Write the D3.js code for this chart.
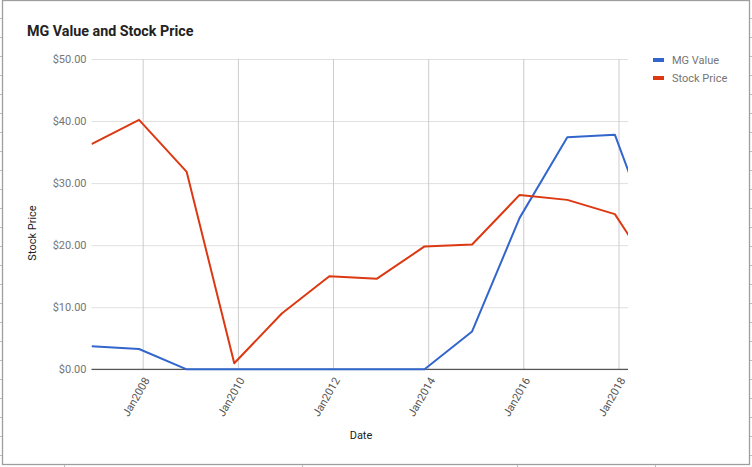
<!DOCTYPE html>
<html>
<head>
<meta charset="utf-8">
<script src="https://cdn.jsdelivr.net/npm/d3@7"></script>
<style>
  html, body { margin: 0; padding: 0; background: #fff; }
  svg { display: block; font-family: Roboto, Arial, sans-serif; }
</style>
</head>
<body>
<svg id="chart" width="752" height="467"></svg>
<script>
// ---- data ----
const dates = ["2006-12-04","2007-12-04","2008-12-04","2009-12-04","2010-12-04","2011-12-04","2012-12-04","2013-12-04","2014-12-04","2015-12-04","2016-12-04","2017-12-04","2018-12-04"];
const mgValue = [3.7, 3.27, 0, 0, 0, 0, 0, 0, 6.1, 24.4, 37.4, 37.8, 17.2];
const stockPrice = [36.3, 40.2, 31.8, 0.97, 9.0, 15.0, 14.6, 19.8, 20.1, 28.1, 27.3, 25.0, 13.3];
const seriesNames = ["MG Value", "Stock Price"];
const seriesColors = ["#3366cc", "#dc3912"];
const yTicks = [0, 10, 20, 30, 40, 50];
const xTickDates = ["2008-01-01","2010-01-01","2012-01-01","2014-01-01","2016-01-01","2018-01-01"];
const xDomain = ["2006-12-04", "2018-03-15"];

(function () {
const parse = d3.utcParse("%Y-%m-%d");
const svg = d3.select("#chart");

// frame artifacts
svg.append("rect").attr("x", 2.5).attr("y", 0.5).attr("width", 747).attr("height", 464)
  .attr("fill", "#fff").attr("stroke", "#9e9e9e").attr("stroke-width", 1.3);
const sideTicks = d3.range(18.5, 460, 19);
svg.selectAll(".lt").data(sideTicks).join("line").attr("class", "lt")
  .attr("x1", 0).attr("x2", 2).attr("y1", d => d).attr("y2", d => d).attr("stroke", "#bbb");
svg.selectAll(".rt").data(sideTicks).join("line").attr("class", "rt")
  .attr("x1", 750).attr("x2", 752).attr("y1", d => d).attr("y2", d => d).attr("stroke", "#bbb");
svg.selectAll(".bt").data([64.5, 302.5, 517.5, 655.5]).join("line").attr("class", "bt")
  .attr("x1", d => d).attr("x2", d => d).attr("y1", 465).attr("y2", 467).attr("stroke", "#bbb");

const pLeft = 91.5, pRight = 628, pTop = 59, pBottom = 369.3;
const x = d3.scaleUtc().domain(xDomain.map(parse)).range([pLeft, pRight]);
const y = d3.scaleLinear().domain([0, 50]).range([pBottom, pTop]);

// title
svg.append("text").attr("x", 27).attr("y", 36).text("MG Value and Stock Price")
  .attr("font-size", 14.3).attr("font-weight", "bold").attr("fill", "#222");

// horizontal gridlines + y labels
const yAxis = d3.axisLeft(y).tickValues(yTicks).tickFormat(d3.format("$.2f"))
  .tickSize(-(pRight - pLeft)).tickPadding(5);
const gy = svg.append("g").attr("transform", `translate(${pLeft},0)`).call(yAxis);
gy.select(".domain").remove();
gy.selectAll(".tick line").attr("stroke", "#e0e0e0").attr("stroke-width", 1);
gy.selectAll(".tick text").attr("font-size", 11).attr("fill", "#757575")
  .attr("font-family", "Roboto, Arial, sans-serif");

// vertical gridlines + x labels
const xAxis = d3.axisBottom(x).tickValues(xTickDates.map(parse))
  .tickFormat(d3.utcFormat("%b%Y")).tickSize(-(pBottom - pTop)).tickPadding(4);
const gx = svg.append("g").attr("transform", `translate(0,${pBottom})`).call(xAxis);
gx.select(".domain").remove();
gx.selectAll(".tick line").attr("stroke", "#cccccc").attr("stroke-width", 1);
gx.selectAll(".tick text").attr("font-size", 11).attr("fill", "#555")
  .attr("font-family", "Roboto, Arial, sans-serif")
  .attr("text-anchor", "end").attr("dy", "0.35em")
  .attr("transform", "translate(0,7) rotate(-60)");

// baseline
svg.append("line").attr("x1", pLeft).attr("x2", pRight).attr("y1", y(0)).attr("y2", y(0))
  .attr("stroke", "#333").attr("stroke-width", 1);

// clip
svg.append("clipPath").attr("id", "clip").append("rect")
  .attr("x", pLeft).attr("y", pTop - 5).attr("width", pRight - pLeft).attr("height", pBottom - pTop + 10);

const series = [mgValue, stockPrice];
const line = d3.line().x((d, i) => x(parse(dates[i]))).y(d => y(d));
svg.append("g").attr("clip-path", "url(#clip)").selectAll("path").data(series).join("path")
  .attr("d", d => line(d)).attr("fill", "none")
  .attr("stroke", (d, i) => seriesColors[i]).attr("stroke-width", 2)
  .attr("stroke-linejoin", "round");

// axis titles
svg.append("text").attr("x", 361).attr("y", 439).attr("text-anchor", "middle")
  .attr("font-size", 11).attr("fill", "#222").text("Date");
svg.append("text").attr("transform", "translate(36,233) rotate(-90)").attr("text-anchor", "middle")
  .attr("font-size", 11).attr("fill", "#222").text("Stock Price");

// legend
const lg = svg.append("g").selectAll("g").data(seriesNames).join("g")
  .attr("transform", (d, i) => `translate(653,${60 + i * 18})`);
lg.append("rect").attr("x", 0).attr("y", -2).attr("width", 11).attr("height", 4)
  .attr("fill", (d, i) => seriesColors[i]);
lg.append("text").attr("x", 19).attr("y", 3.5).attr("font-size", 11).attr("fill", "#757575").text(d => d);
})();
</script>
</body>
</html>
